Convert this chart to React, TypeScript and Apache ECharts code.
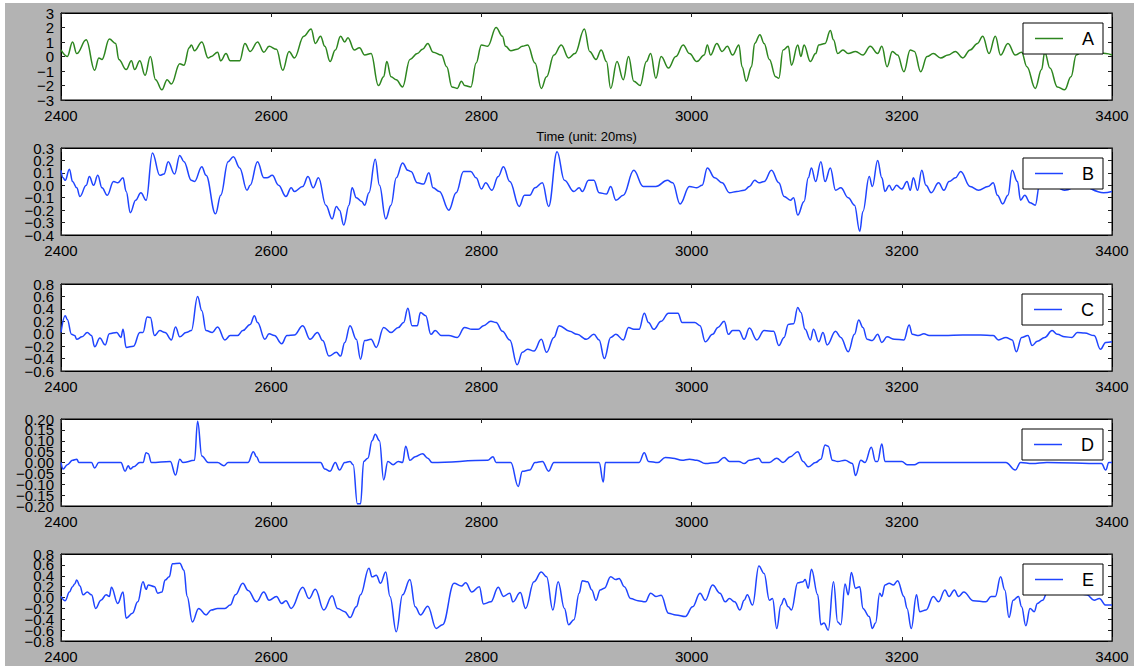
import React, { useEffect, useRef } from "react";
import * as echarts from "echarts";

const seriesNames = ["A", "B", "C", "D", "E"];
const xTicks = { min: 2400, max: 3400, interval: 200 };
const xAxisTitle = "Time (unit: 20ms)";

const yRanges = [
  { min: -3, max: 3, interval: 1, decimals: 0 },
  { min: -0.4, max: 0.3, interval: 0.1, decimals: 1 },
  { min: -0.6, max: 0.8, interval: 0.2, decimals: 1 },
  { min: -0.2, max: 0.2, interval: 0.05, decimals: 2 },
  { min: -0.8, max: 0.8, interval: 0.2, decimals: 1 },
];

const pointsA = [
  [2400, 0.45], [2406, 0.0], [2411, 1.0], [2415, 0.2], [2424, 1.15], [2432, -0.95], [2436, -0.1], [2439, -0.2],
  [2446, 1.2], [2452, 0.9], [2455, -0.2], [2462, -0.9], [2467, -0.3], [2470, -0.9], [2475, -0.3], [2480, -1.3],
  [2485, 0.0], [2490, -1.6], [2496, -2.3], [2501, -1.6], [2505, -1.9], [2513, -0.5], [2517, -0.6], [2522, 0.6],
  [2524, 0.8], [2527, 0.4], [2534, 1.0], [2540, -0.1], [2543, 0.0], [2549, 0.3], [2552, -0.3], [2557, 0.2],
  [2561, -0.3], [2570, -0.3], [2575, 0.9], [2580, 0.35], [2587, 1.0], [2593, 0.3], [2598, 0.7], [2605, 0.5],
  [2611, -0.95], [2617, 0.35], [2622, -0.1], [2631, 1.4], [2638, 1.9], [2642, 0.9], [2647, 1.4], [2651, 0.7],
  [2656, -0.35], [2661, 0.45], [2666, 1.4], [2670, 1.0], [2673, 1.3], [2679, 0.45], [2684, 0.6], [2689, 0.1],
  [2695, 0.2], [2702, -2.0], [2707, -1.4], [2710, -0.35], [2714, -1.4], [2719, -1.6], [2725, -2.1], [2732, -0.2],
  [2739, 0.2], [2744, 0.5], [2749, 0.9], [2754, 0.3], [2762, 0.1], [2767, -0.7], [2772, -2.1], [2777, -2.2],
  [2781, -1.7], [2784, -2.0], [2790, -2.1], [2795, -0.45], [2800, 0.8], [2806, 0.7], [2814, 2.0], [2820, 1.4],
  [2823, 0.7], [2828, 0.4], [2834, 0.5], [2839, 0.7], [2844, 0.8], [2851, -0.45], [2857, -2.2], [2862, -1.4],
  [2869, 0.1], [2876, 0.8], [2883, -0.1], [2889, 0.2], [2898, 1.9], [2903, 0.35], [2909, -0.2], [2914, 0.45],
  [2919, -0.35], [2923, -2.2], [2929, -0.35], [2935, -1.6], [2940, 0.0], [2945, -1.7], [2951, -2.0], [2957, -0.35],
  [2961, 0.2], [2966, -1.5], [2971, 0.0], [2978, -0.8], [2985, 0.0], [2992, 0.8], [2998, 0.2], [3005, -0.35],
  [3012, 0.1], [3015, 0.8], [3018, 0.1], [3024, 0.9], [3029, 0.35], [3034, 0.7], [3039, 0.1], [3045, 0.8],
  [3048, -0.7], [3052, -1.7], [3057, -0.7], [3060, 0.9], [3065, 1.5], [3069, 0.9], [3074, -0.2], [3080, -1.4],
  [3083, -1.5], [3087, 0.45], [3092, 0.7], [3095, -0.6], [3101, 0.8], [3104, 0.0], [3107, 0.8], [3113, -0.35],
  [3118, 0.2], [3121, 0.8], [3127, 0.9], [3132, 1.8], [3135, 1.15], [3139, 0.2], [3144, 0.45], [3149, 0.2],
  [3156, 0.35], [3163, 0.1], [3170, 0.7], [3177, 0.2], [3181, 0.7], [3186, -0.7], [3191, 0.35], [3196, 0.1],
  [3202, -1.05], [3208, 0.45], [3212, 0.35], [3218, -1.05], [3224, 0.0], [3230, 0.2], [3237, -0.1], [3244, 0.1],
  [3251, 0.35], [3258, -0.1], [3265, 0.45], [3272, 0.9], [3277, 1.4], [3283, 0.2], [3289, 1.4], [3294, 0.1],
  [3301, 0.9], [3308, 0.1], [3314, 0.3], [3319, -0.7], [3327, -2.2], [3333, -0.9], [3336, 0.3], [3341, -0.8],
  [3348, -2.1], [3355, -2.3], [3361, -1.4], [3366, 0.1], [3373, 0.45], [3383, 0.35], [3394, 0.2], [3400, 0.1],
];

const pointsB = [
  [2400, 0.12], [2402, 0.06], [2404, 0.04], [2408, 0.13], [2411, 0.03], [2415, -0.02], [2418, -0.09], [2424, 0.0],
  [2427, 0.07], [2431, 0.0], [2435, 0.08], [2439, -0.02], [2444, -0.08], [2450, 0.03], [2454, 0.02], [2459, 0.06],
  [2462, -0.05], [2466, -0.22], [2471, -0.12], [2476, -0.06], [2481, -0.12], [2487, 0.26], [2494, 0.08], [2498, 0.09],
  [2502, 0.19], [2508, 0.09], [2513, 0.24], [2517, 0.19], [2524, 0.04], [2527, 0.03], [2534, 0.15], [2538, 0.08],
  [2547, -0.23], [2552, -0.08], [2559, 0.19], [2564, 0.23], [2570, 0.14], [2577, -0.04], [2580, 0.0], [2587, 0.19],
  [2593, 0.06], [2596, 0.06], [2601, 0.08], [2607, 0.0], [2614, -0.09], [2619, -0.02], [2622, -0.05], [2630, -0.01],
  [2635, 0.07], [2640, -0.02], [2645, 0.06], [2652, -0.16], [2658, -0.27], [2662, -0.17], [2665, -0.2], [2669, -0.32],
  [2674, -0.16], [2677, -0.02], [2681, -0.1], [2686, -0.13], [2689, -0.16], [2693, -0.06], [2699, 0.21], [2703, 0.0],
  [2709, -0.27], [2714, -0.16], [2719, 0.06], [2725, 0.18], [2730, 0.12], [2733, 0.11], [2739, 0.02], [2745, 0.01],
  [2750, 0.1], [2754, -0.02], [2760, -0.05], [2769, -0.2], [2776, -0.06], [2783, 0.11], [2790, 0.11], [2795, 0.06],
  [2800, -0.03], [2804, 0.02], [2810, -0.04], [2816, 0.07], [2821, 0.15], [2827, 0.03], [2836, -0.17], [2841, -0.08],
  [2846, -0.08], [2851, -0.02], [2858, 0.02], [2864, -0.17], [2872, 0.27], [2879, 0.04], [2888, -0.05], [2893, -0.02],
  [2896, -0.05], [2902, 0.04], [2907, 0.04], [2912, -0.06], [2919, -0.07], [2923, -0.01], [2928, -0.12], [2935, -0.08],
  [2945, 0.12], [2954, -0.01], [2966, -0.01], [2977, 0.04], [2982, 0.02], [2989, -0.15], [2998, -0.01], [3005, -0.02],
  [3010, 0.0], [3015, 0.14], [3022, 0.06], [3029, 0.02], [3036, -0.06], [3043, -0.05], [3050, -0.04], [3055, -0.01],
  [3060, 0.04], [3064, 0.02], [3069, 0.03], [3076, 0.12], [3083, 0.02], [3088, -0.09], [3094, -0.12], [3097, -0.1],
  [3101, -0.24], [3107, -0.13], [3111, 0.06], [3114, 0.14], [3118, 0.03], [3123, 0.19], [3127, 0.03], [3132, 0.14],
  [3137, -0.04], [3142, -0.02], [3149, -0.1], [3155, -0.16], [3160, -0.37], [3163, -0.21], [3169, 0.07], [3172, -0.01],
  [3177, 0.2], [3181, 0.06], [3184, -0.05], [3188, 0.0], [3191, -0.04], [3195, 0.0], [3200, -0.03], [3205, 0.03],
  [3208, -0.04], [3211, 0.06], [3215, -0.04], [3219, 0.12], [3223, 0.0], [3228, -0.06], [3235, 0.02], [3240, -0.04],
  [3245, 0.03], [3251, 0.06], [3256, 0.11], [3265, -0.01], [3273, -0.04], [3282, -0.01], [3287, 0.02], [3291, -0.08],
  [3296, -0.15], [3301, -0.08], [3305, 0.12], [3310, 0.03], [3313, -0.12], [3317, -0.08], [3322, -0.14], [3327, -0.16],
  [3331, 0.0], [3341, 0.02], [3355, -0.04], [3369, 0.0], [3392, -0.06], [3400, -0.05],
];

const pointsC = [
  [2400, 0.02], [2404, 0.29], [2406, 0.23], [2410, -0.01], [2413, -0.03], [2415, -0.09], [2420, -0.05], [2425, 0.02],
  [2429, -0.03], [2432, -0.21], [2437, -0.07], [2442, -0.18], [2446, 0.0], [2453, 0.02], [2457, -0.06], [2459, 0.07],
  [2462, -0.22], [2469, -0.2], [2475, 0.02], [2478, 0.02], [2482, 0.27], [2485, 0.26], [2489, -0.03], [2494, 0.05],
  [2499, 0.02], [2505, -0.1], [2509, 0.11], [2513, -0.05], [2519, 0.02], [2524, 0.05], [2530, 0.6], [2534, 0.37],
  [2538, 0.05], [2544, 0.02], [2549, 0.11], [2556, -0.1], [2561, -0.03], [2568, -0.03], [2573, 0.05], [2580, 0.15],
  [2584, 0.29], [2587, 0.18], [2594, -0.09], [2598, 0.0], [2603, -0.03], [2610, -0.16], [2615, -0.03], [2622, -0.02],
  [2630, 0.13], [2637, -0.09], [2644, 0.02], [2649, -0.11], [2655, -0.36], [2662, -0.3], [2666, -0.36], [2670, -0.14],
  [2675, 0.13], [2681, -0.09], [2685, -0.41], [2689, -0.11], [2695, -0.09], [2700, -0.22], [2707, 0.1], [2714, 0.02],
  [2721, 0.1], [2726, 0.18], [2730, 0.41], [2734, 0.13], [2739, 0.13], [2742, 0.34], [2747, 0.29], [2752, -0.01],
  [2756, 0.05], [2762, -0.03], [2769, -0.03], [2777, -0.06], [2784, 0.1], [2791, 0.07], [2797, 0.07], [2802, 0.13],
  [2809, 0.2], [2814, 0.18], [2820, 0.04], [2827, -0.1], [2834, -0.5], [2839, -0.3], [2844, -0.25], [2850, -0.28],
  [2857, -0.09], [2862, -0.3], [2869, -0.06], [2874, 0.13], [2884, 0.04], [2891, -0.01], [2900, -0.09], [2907, -0.01],
  [2912, -0.1], [2917, -0.4], [2923, -0.06], [2928, -0.01], [2935, -0.1], [2940, 0.1], [2945, 0.07], [2950, 0.07],
  [2955, 0.33], [2959, 0.18], [2964, 0.07], [2971, 0.2], [2978, 0.33], [2987, 0.33], [2991, 0.18], [2998, 0.18],
  [3003, 0.18], [3008, 0.13], [3013, -0.13], [3020, -0.01], [3025, 0.1], [3031, 0.2], [3035, -0.01], [3039, 0.05],
  [3045, 0.05], [3050, -0.09], [3055, 0.09], [3062, -0.1], [3069, 0.05], [3078, 0.04], [3083, -0.19], [3088, -0.06],
  [3092, 0.15], [3097, 0.16], [3101, 0.42], [3104, 0.34], [3108, 0.07], [3113, -0.1], [3116, 0.07], [3121, -0.13],
  [3125, 0.02], [3129, -0.18], [3137, 0.04], [3142, -0.06], [3149, -0.29], [3155, -0.01], [3159, 0.22], [3163, 0.1],
  [3167, -0.09], [3172, -0.11], [3177, -0.01], [3181, -0.14], [3186, -0.05], [3193, -0.09], [3202, -0.1], [3207, 0.14],
  [3210, -0.01], [3216, -0.03], [3221, 0.0], [3226, -0.03], [3240, -0.03], [3258, -0.02], [3275, -0.02], [3287, -0.03],
  [3292, -0.1], [3299, -0.06], [3305, -0.1], [3309, -0.29], [3314, -0.06], [3320, -0.03], [3324, -0.19], [3329, -0.12],
  [3336, -0.06], [3343, 0.05], [3348, -0.01], [3355, -0.05], [3362, -0.06], [3367, 0.02], [3374, 0.01], [3383, -0.03],
  [3389, -0.25], [3394, -0.14], [3400, -0.13],
];

const pointsD = [
  [2400, 0.0], [2402, -0.03], [2406, -0.01], [2411, 0.01], [2415, 0.015], [2417, 0.0], [2429, 0.0], [2432, -0.025],
  [2436, 0.0], [2457, 0.0], [2461, -0.04], [2464, -0.015], [2466, -0.03], [2469, -0.02], [2475, 0.0], [2478, 0.0],
  [2481, 0.045], [2483, 0.04], [2486, 0.0], [2504, 0.005], [2509, -0.058], [2513, 0.015], [2516, 0.0], [2527, 0.01],
  [2530, 0.19], [2534, 0.03], [2540, 0.0], [2549, 0.0], [2555, -0.015], [2559, 0.0], [2578, 0.0], [2583, 0.05],
  [2586, 0.027], [2589, 0.0], [2647, 0.0], [2651, -0.03], [2656, -0.04], [2661, 0.0], [2665, -0.035], [2670, 0.0],
  [2675, 0.005], [2678, -0.01], [2682, -0.19], [2685, -0.19], [2688, 0.005], [2692, 0.02], [2696, 0.1], [2699, 0.13],
  [2703, 0.1], [2707, -0.08], [2711, 0.005], [2716, -0.01], [2721, 0.005], [2725, 0.0], [2728, 0.075], [2732, 0.01],
  [2737, 0.027], [2744, 0.04], [2749, 0.02], [2753, 0.0], [2806, 0.01], [2811, 0.027], [2814, 0.0], [2828, 0.0],
  [2835, -0.11], [2839, -0.04], [2846, -0.035], [2851, 0.0], [2858, 0.005], [2864, -0.04], [2869, 0.0], [2912, 0.0],
  [2916, -0.09], [2918, 0.0], [2950, 0.0], [2955, 0.045], [2959, 0.005], [2968, 0.0], [2975, 0.023], [2982, 0.02],
  [2991, 0.01], [2998, 0.015], [3005, 0.01], [3013, -0.005], [3024, 0.0], [3031, 0.023], [3036, 0.005], [3045, 0.005],
  [3050, -0.005], [3055, 0.01], [3064, 0.02], [3067, 0.0], [3074, 0.0], [3081, 0.02], [3087, 0.0], [3094, 0.027],
  [3101, 0.05], [3106, 0.005], [3111, -0.02], [3118, 0.0], [3123, 0.015], [3127, 0.08], [3130, 0.075], [3134, 0.01],
  [3139, 0.005], [3146, 0.01], [3153, -0.005], [3156, -0.06], [3161, 0.01], [3165, 0.0], [3171, 0.07], [3175, 0.005],
  [3177, 0.005], [3181, 0.085], [3184, 0.005], [3191, 0.005], [3200, 0.005], [3205, -0.01], [3212, -0.01], [3217, 0.0],
  [3223, 0.0], [3258, 0.0], [3299, 0.0], [3308, -0.035], [3313, 0.0], [3324, -0.005], [3338, 0.0], [3390, -0.005],
  [3394, -0.035], [3397, 0.0], [3400, 0.0],
];

const pointsE = [
  [2400, 0.02], [2404, -0.06], [2408, 0.1], [2411, 0.2], [2413, 0.25], [2415, 0.32], [2418, 0.21], [2421, 0.05],
  [2425, 0.1], [2429, 0.05], [2433, -0.2], [2438, -0.05], [2443, 0.05], [2446, 0.02], [2448, 0.19], [2454, -0.11],
  [2459, 0.1], [2462, -0.38], [2468, -0.29], [2473, -0.08], [2478, 0.29], [2481, 0.15], [2483, 0.23], [2489, 0.2],
  [2492, 0.08], [2496, 0.1], [2499, 0.32], [2503, 0.38], [2506, 0.62], [2513, 0.63], [2517, 0.5], [2520, 0.02],
  [2525, -0.45], [2531, -0.2], [2538, -0.32], [2543, -0.23], [2549, -0.2], [2556, -0.2], [2561, -0.14], [2566, 0.05],
  [2573, 0.26], [2578, 0.13], [2586, -0.08], [2593, 0.1], [2598, -0.05], [2605, 0.02], [2610, -0.11], [2614, -0.06],
  [2619, -0.2], [2630, 0.19], [2636, -0.02], [2642, 0.15], [2650, -0.23], [2658, 0.03], [2663, -0.2], [2670, -0.26],
  [2675, -0.37], [2681, -0.17], [2685, 0.05], [2693, 0.54], [2696, 0.38], [2700, 0.41], [2704, 0.26], [2709, 0.47],
  [2713, 0.02], [2719, -0.63], [2725, 0.05], [2732, 0.33], [2737, -0.17], [2742, -0.32], [2749, -0.16], [2757, -0.57],
  [2763, -0.5], [2774, 0.26], [2781, 0.21], [2785, 0.27], [2791, 0.1], [2798, 0.2], [2802, -0.12], [2809, -0.08],
  [2816, 0.19], [2821, 0.02], [2827, 0.08], [2830, -0.08], [2837, 0.09], [2842, -0.2], [2850, 0.29], [2857, 0.47],
  [2862, 0.38], [2868, -0.23], [2873, 0.29], [2879, -0.2], [2883, -0.5], [2888, -0.41], [2893, 0.08], [2896, 0.31],
  [2901, 0.29], [2905, 0.14], [2909, -0.05], [2913, 0.14], [2917, 0.17], [2923, 0.38], [2928, 0.33], [2931, 0.35],
  [2936, 0.2], [2942, -0.02], [2949, -0.06], [2956, -0.08], [2961, 0.08], [2966, 0.02], [2971, 0.04], [2978, -0.29],
  [2985, -0.32], [2994, -0.35], [3001, -0.17], [3008, 0.08], [3013, -0.05], [3020, 0.23], [3027, 0.08], [3032, -0.08],
  [3036, -0.02], [3041, -0.08], [3046, -0.23], [3050, -0.05], [3053, 0.05], [3058, -0.14], [3064, 0.58], [3069, 0.44],
  [3074, -0.05], [3077, -0.02], [3081, -0.57], [3085, -0.14], [3088, -0.02], [3092, -0.17], [3095, -0.23], [3101, 0.27],
  [3106, 0.29], [3108, 0.33], [3111, 0.17], [3114, 0.52], [3120, 0.05], [3123, -0.5], [3126, -0.47], [3130, -0.6],
  [3135, 0.29], [3139, -0.45], [3142, -0.5], [3146, 0.25], [3149, 0.05], [3152, 0.46], [3156, 0.17], [3160, 0.2],
  [3163, -0.2], [3169, -0.35], [3172, -0.57], [3175, -0.47], [3179, 0.08], [3181, 0.02], [3184, 0.23], [3188, 0.26],
  [3192, 0.23], [3196, 0.31], [3202, 0.02], [3205, -0.2], [3209, -0.57], [3214, 0.05], [3217, -0.26], [3223, -0.23],
  [3230, 0.02], [3235, -0.08], [3241, 0.14], [3245, 0.02], [3250, 0.14], [3254, 0.02], [3259, 0.1], [3268, -0.06],
  [3280, -0.08], [3285, 0.02], [3289, 0.02], [3294, 0.38], [3298, 0.14], [3302, -0.37], [3306, -0.05], [3311, 0.02],
  [3314, -0.17], [3318, -0.52], [3322, -0.2], [3326, -0.26], [3329, -0.11], [3334, -0.05], [3338, 0.08], [3355, 0.15],
  [3376, 0.05], [3383, -0.05], [3388, -0.02], [3394, -0.14], [3400, -0.14],
];

const allPoints = [pointsA, pointsB, pointsC, pointsD, pointsE];
const lineColors = ["#2d861f", "#1f44ff", "#1f44ff", "#1f44ff", "#1f44ff"];

const FONT = "'Liberation Sans', Arial, sans-serif";
const gridTops = [13, 148, 284, 419, 554];
const gridHeight = 87;
const gridLeft = 61;
const gridRight = 22;

function fmt(v: number, d: number) {
  if (Math.abs(v) < 1e-9) v = 0;
  return v.toFixed(d).replace("-", "\u2212");
}

export default function App() {
  const ref = useRef<HTMLDivElement>(null);

  useEffect(() => {
    if (!ref.current) return;
    const chart = echarts.init(ref.current, undefined, { renderer: "svg" });

    const grid: any[] = [];
    const xAxis: any[] = [];
    const yAxis: any[] = [];
    const series: any[] = [];
    const legend: any[] = [];

    seriesNames.forEach((name, i) => {
      grid.push({
        left: gridLeft,
        right: gridRight,
        top: gridTops[i],
        height: gridHeight,
        show: true,
        backgroundColor: "#ffffff",
        borderColor: "#000000",
        borderWidth: 1,
      });
      const tickStyle = { inside: true, length: 4, lineStyle: { color: "#222", width: 1 } };
      const lineStyleAxis = { show: true, onZero: false, lineStyle: { color: "#000", width: 1 } };
      xAxis.push({
        type: "value",
        gridIndex: i,
        min: xTicks.min,
        max: xTicks.max,
        interval: xTicks.interval,
        position: "bottom",
        axisLine: lineStyleAxis,
        axisTick: tickStyle,
        splitLine: { show: false },
        axisLabel: {
          show: true,
          color: "#000",
          fontSize: 15,
          fontFamily: FONT,
          margin: 8,
          showMinLabel: true,
          showMaxLabel: true,
          hideOverlap: false,
          formatter: (v: number) => String(Math.round(v)),
        },
        name: i === 0 ? xAxisTitle : "",
        nameLocation: "middle",
        nameGap: 30,
        nameTextStyle: { color: "#000", fontSize: 13, fontFamily: FONT },
      });
      xAxis.push({
        type: "value",
        gridIndex: i,
        min: xTicks.min,
        max: xTicks.max,
        interval: xTicks.interval,
        position: "top",
        axisLine: lineStyleAxis,
        axisTick: tickStyle,
        splitLine: { show: false },
        axisLabel: { show: false },
      });
      const r = yRanges[i];
      const labelFor = (parity: number) => (v: number) => {
        const k = Math.round((v - r.min) / r.interval);
        return k % 2 === parity ? fmt(v, r.decimals) : "";
      };
      const yLabelStyle = {
        show: true,
        color: "#000",
        fontSize: 15,
        fontFamily: FONT,
        margin: 7,
        showMinLabel: true,
        showMaxLabel: true,
        hideOverlap: false,
      };
      // main left axis (even-indexed labels)
      yAxis.push({
        type: "value",
        gridIndex: i,
        min: r.min,
        max: r.max,
        interval: r.interval,
        position: "left",
        axisLine: lineStyleAxis,
        axisTick: tickStyle,
        splitLine: { show: false },
        axisLabel: { ...yLabelStyle, formatter: labelFor(0) },
      });
      // right axis with ticks only
      yAxis.push({
        type: "value",
        gridIndex: i,
        min: r.min,
        max: r.max,
        interval: r.interval,
        position: "right",
        axisLine: lineStyleAxis,
        axisTick: tickStyle,
        splitLine: { show: false },
        axisLabel: { show: false },
      });
      // second left axis carrying the odd-indexed labels
      yAxis.push({
        type: "value",
        gridIndex: i,
        min: r.min,
        max: r.max,
        interval: r.interval,
        position: "left",
        offset: 0,
        axisLine: { show: false, onZero: false },
        axisTick: { show: false },
        splitLine: { show: false },
        axisLabel: { ...yLabelStyle, formatter: labelFor(1) },
      });
      series.push({
        name,
        type: "line",
        xAxisIndex: i * 2,
        yAxisIndex: i * 3,
        data: allPoints[i],
        symbol: "none",
        showSymbol: false,
        smooth: 0.4,
        smoothMonotone: "x",
        lineStyle: { color: lineColors[i], width: 1.5 },
        itemStyle: { color: lineColors[i] },
        clip: true,
        z: 2,
      });
      legend.push({
        data: [{ name, icon: "rect" }],
        right: gridRight + 9,
        top: gridTops[i] + 10,
        orient: "horizontal",
        backgroundColor: "#ffffff",
        borderColor: "#000000",
        borderWidth: 1,
        borderRadius: 0,
        padding: [6, 9, 6, 12],
        itemWidth: 28,
        itemHeight: 1.5,
        selectedMode: false,
        itemStyle: { color: lineColors[i] },
        textStyle: { color: "#000", fontSize: 18, fontFamily: FONT, padding: [0, 0, 0, 14], lineHeight: 19 },
        z: 10,
      });
    });

    chart.setOption({
      animation: false,
      backgroundColor: "transparent",
      grid,
      xAxis,
      yAxis,
      series,
      legend,
    });

    return () => chart.dispose();
  }, []);

  return (
    <div
      style={{
        position: "fixed",
        left: 0,
        top: 0,
        width: 1134,
        height: 666,
        background: "#ffffff",
        overflow: "hidden",
      }}
    >
      <div
        style={{
          position: "absolute",
          left: 5,
          top: 3,
          right: 0,
          bottom: 0,
          background: "#b3b3b3",
        }}
      />
      <div ref={ref} style={{ position: "absolute", left: 0, top: 0, width: 1134, height: 666 }} />
    </div>
  );
}
